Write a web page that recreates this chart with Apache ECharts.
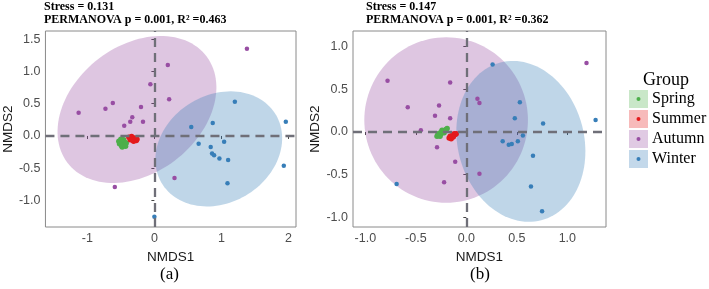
<!DOCTYPE html>
<html>
<head>
<meta charset="utf-8">
<script src="https://cdn.jsdelivr.net/npm/echarts@6/dist/echarts.min.js"></script>
<style>
  html, body { margin: 0; padding: 0; background: #fff; }
  #chart { width: 709px; height: 289px; }
</style>
</head>
<body>
<div id="chart"></div>
<script>
// groups + colours (ggplot Set1)
const groups = ['Spring', 'Summer', 'Autumn', 'Winter'];
const groupColors = ['#4DAF4A', '#E41A1C', '#984EA3', '#377EB8'];

// panel (a)
const aSpring = [[-0.50,-0.10],[-0.47,-0.13],[-0.45,-0.09],[-0.52,-0.12],[-0.49,-0.15],[-0.44,-0.14],
  [-0.46,-0.06],[-0.42,-0.11],[-0.48,-0.17],[-0.53,-0.08],[-0.43,-0.16],[-0.50,-0.05]];
const aSummer = [[-0.38,-0.02],[-0.35,-0.04],[-0.32,-0.05],[-0.29,-0.06],[-0.27,-0.07],[-0.34,-0.01],
  [-0.30,-0.03],[-0.26,-0.05],[-0.36,-0.06],[-0.31,-0.08],[-0.28,-0.04],[-0.33,-0.06]];
const aAutumn = [[1.38,1.35],[0.20,1.10],[-0.06,0.80],[0.22,0.57],[-1.13,0.36],[-0.73,0.42],[-0.62,0.51],
  [-0.20,0.45],[-0.33,0.29],[-0.36,0.22],[-0.17,0.22],[-0.45,0.16],[0.30,-0.65],[-0.59,-0.79]];
const aWinter = [[1.20,0.53],[1.96,0.22],[0.55,0.14],[0.87,0.20],[0.66,-0.12],[0.84,-0.17],[1.04,-0.09],
  [0.86,-0.27],[0.89,-0.30],[0.97,-0.35],[1.10,-0.37],[1.93,-0.46],[1.09,-0.73],[0.00,-1.25]];
// ellipse: centre x, centre y, then two conjugate semi-axis vectors
const aAutumnEllipse = [-0.26, 0.41, 1.04, 0.82, -0.567, 0.789];
const aWinterEllipse = [0.96, -0.20, 0.857, 0.519, -0.399, 0.724];
const aXTicks = [-1, 0, 1, 2];
const aYTicks = [-1, -0.5, 0, 0.5, 1, 1.5];

// panel (b)
const bSpring = [[-0.29,-0.05],[-0.27,-0.03],[-0.25,-0.02],[-0.23,0.00],[-0.21,0.02],[-0.19,0.04],
  [-0.26,-0.05],[-0.24,0.02],[-0.22,-0.01],[-0.28,-0.02],[-0.20,0.03],[-0.25,0.00]];
const bSummer = [[-0.17,-0.07],[-0.15,-0.06],[-0.13,-0.05],[-0.11,-0.03],[-0.16,-0.05],
  [-0.14,-0.04],[-0.12,-0.02],[-0.10,-0.02],[-0.15,-0.08],[-0.13,-0.06]];
const bAutumn = [[1.19,0.81],[-0.78,0.60],[-0.16,0.58],[-0.58,0.29],[-0.27,0.31],[-0.31,0.19],[-0.16,0.16],
  [-0.45,0.02],[0.11,0.39],[0.13,0.34],[-0.29,-0.18],[-0.11,-0.35],[0.13,-0.49],[-0.22,-0.59]];
const bWinter = [[0.26,0.79],[0.53,0.35],[0.48,0.16],[0.76,0.10],[1.28,0.14],[0.56,-0.04],[0.36,-0.11],
  [0.42,-0.15],[0.45,-0.14],[0.51,-0.11],[0.66,-0.28],[0.64,-0.64],[0.75,-0.93],[-0.69,-0.61]];
const bAutumnEllipse = [-0.20, 0.14, 0.81, 0, 0, 0.97];
const bWinterEllipse = [0.54, -0.11, 0.606, 0.185, -0.202, 0.925];
const bXTicks = [-1, -0.5, 0, 0.5, 1];
const bYTicks = [-1, -0.5, 0, 0.5, 1];

const statsA = ['Stress = 0.131', 'PERMANOVA p = 0.001, R\u00B2 =0.463'];
const statsB = ['Stress = 0.147', 'PERMANOVA p = 0.001, R\u00B2 =0.362'];

const chart = echarts.init(document.getElementById('chart'));

const sans = 'Liberation Sans, Arial, sans-serif';
const serif = 'Liberation Serif, Times New Roman, serif';

function fade(hex, a) {
  const n = parseInt(hex.slice(1), 16);
  return `rgba(${n >> 16},${(n >> 8) & 255},${n & 255},${a})`;
}

function ellipseSeries(idx, ell, color) {
  return {
    type: 'custom', xAxisIndex: idx, yAxisIndex: idx, z: 1, silent: true,
    data: [ell],
    renderItem: (params, api) => {
      const cx = api.value(0), cy = api.value(1);
      const ux = api.value(2), uy = api.value(3), vx = api.value(4), vy = api.value(5);
      const pts = [];
      for (let k = 0; k < 120; k++) {
        const t = k / 120 * Math.PI * 2;
        pts.push(api.coord([cx + ux * Math.cos(t) + vx * Math.sin(t), cy + uy * Math.cos(t) + vy * Math.sin(t)]));
      }
      return { type: 'polygon', shape: { points: pts }, style: { fill: fade(color, 0.32) } };
    }
  };
}

function pointSeries(idx, name, data, color, size) {
  return {
    type: 'scatter', name, xAxisIndex: idx, yAxisIndex: idx, z: 3,
    data, symbolSize: size, itemStyle: { color, opacity: 1 }
  };
}

function zeroLines(idx) {
  return {
    type: 'scatter', xAxisIndex: idx, yAxisIndex: idx, data: [], z: 5,
    markLine: {
      silent: true, symbol: 'none', label: { show: false }, z: 5,
      lineStyle: { color: '#6f6f78', width: 2.3, type: [9, 6] },
      data: [{ xAxis: 0 }, { yAxis: 0 }]
    }
  };
}

function makeAxis(idx, dim, min, max, ticks, fmt, name, gap) {
  return {
    type: 'value', gridIndex: idx, min, max,
    name, nameLocation: 'middle', nameGap: gap,
    nameRotate: dim === 'y' ? 90 : 0,
    nameTextStyle: { fontFamily: sans, fontSize: 13.5, color: '#1a1a1a' },
    axisLine: { show: false },
    splitLine: { show: false },
    axisTick: { show: true, length: 3, customValues: ticks, lineStyle: { color: '#444', width: 1 } },
    axisLabel: { customValues: ticks, formatter: fmt, fontFamily: sans, fontSize: 12.5, color: '#4d4d4d', margin: 5 }
  };
}

const fmtInt = v => String(v);
const fmt1 = v => v.toFixed(1);

const series = [
  ellipseSeries(0, aAutumnEllipse, groupColors[2]),
  ellipseSeries(0, aWinterEllipse, groupColors[3]),
  pointSeries(0, groups[0], aSpring, groupColors[0], 5.5),
  pointSeries(0, groups[1], aSummer, groupColors[1], 5.5),
  pointSeries(0, groups[2], aAutumn, groupColors[2], 4.5),
  pointSeries(0, groups[3], aWinter, groupColors[3], 4.5),
  zeroLines(0),
  ellipseSeries(1, bAutumnEllipse, groupColors[2]),
  ellipseSeries(1, bWinterEllipse, groupColors[3]),
  pointSeries(1, groups[0], bSpring, groupColors[0], 5.5),
  pointSeries(1, groups[1], bSummer, groupColors[1], 5.5),
  pointSeries(1, groups[2], bAutumn, groupColors[2], 4.5),
  pointSeries(1, groups[3], bWinter, groupColors[3], 4.5),
  zeroLines(1)
];

// legend + annotations
const graphic = [];
function addText(x, y, text, size, weight, align) {
  graphic.push({
    type: 'text', x, y, silent: true,
    style: { text, fontFamily: serif, fontSize: size, fontWeight: weight || 'normal', fill: '#000',
      textAlign: align || 'left', textVerticalAlign: 'middle' }
  });
}
addText(44, 7, statsA[0], 12, 'bold');
addText(44, 20, statsA[1], 12, 'bold');
addText(366, 7, statsB[0], 12, 'bold');
addText(366, 20, statsB[1], 12, 'bold');
addText(160, 275, '(a)', 17);
addText(470, 275, '(b)', 17);
addText(666, 80, 'Group', 18, 'normal', 'center');
groups.forEach((g, i) => {
  const y = 90 + i * 20;
  graphic.push({ type: 'rect', silent: true, shape: { x: 629, y, width: 19, height: 18 },
    style: { fill: fade(groupColors[i], 0.3) } });
  graphic.push({ type: 'circle', silent: true, shape: { cx: 638.5, cy: y + 9, r: 2 },
    style: { fill: groupColors[i] } });
  addText(652, y + 9, g, 16);
});

chart.setOption({
  animation: false,
  backgroundColor: '#fff',
  grid: [
    { left: 43, top: 31, width: 253, height: 196, show: true, borderColor: '#8a8a8a', borderWidth: 1, backgroundColor: 'transparent' },
    { left: 353, top: 31, width: 253, height: 196, show: true, borderColor: '#8a8a8a', borderWidth: 1, backgroundColor: 'transparent' }
  ],
  xAxis: [
    makeAxis(0, 'x', -1.625, 2.112, aXTicks, fmtInt, 'NMDS1', 16),
    makeAxis(1, 'x', -1.122, 1.383, bXTicks, fmt1, 'NMDS1', 16)
  ],
  yAxis: [
    makeAxis(0, 'y', -1.409, 1.625, aYTicks, fmt1, 'NMDS2', 29),
    makeAxis(1, 'y', -1.114, 1.184, bYTicks, fmt1, 'NMDS2', 31)
  ],
  series,
  graphic
});
</script>
</body>
</html>
